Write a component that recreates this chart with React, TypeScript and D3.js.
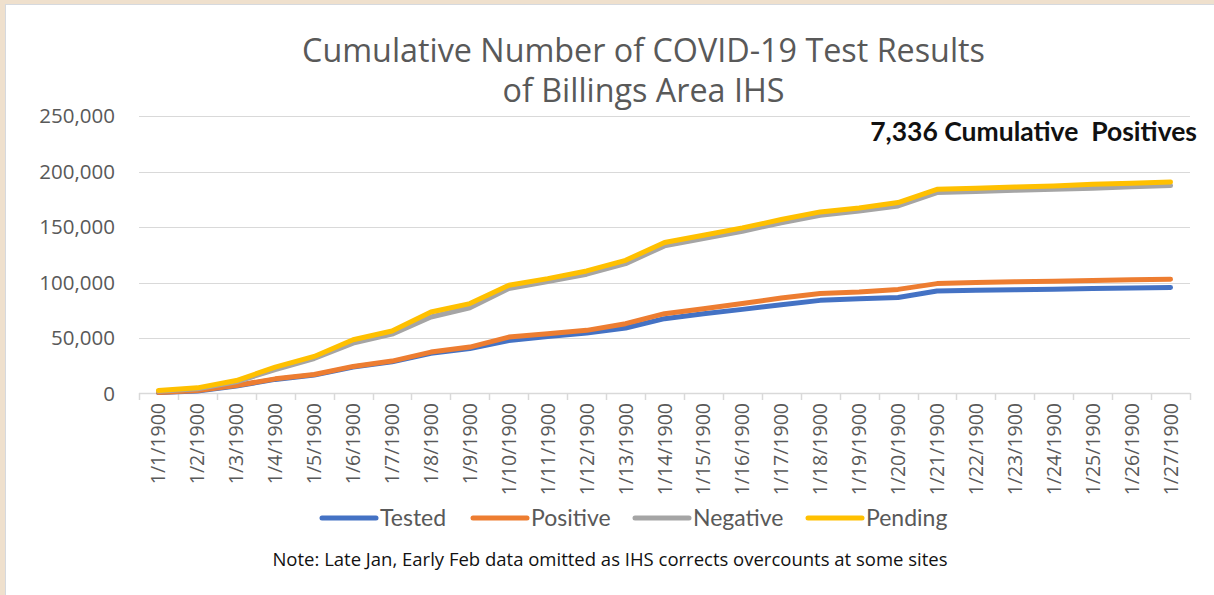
import React from 'react';
import { scaleBand, scaleLinear, line } from 'd3';

const width = 1214;
const height = 595;
const margin = { top: 116, right: 24, bottom: 202, left: 139 };

const dates = [
  '1/1/1900', '1/2/1900', '1/3/1900', '1/4/1900', '1/5/1900', '1/6/1900', '1/7/1900',
  '1/8/1900', '1/9/1900', '1/10/1900', '1/11/1900', '1/12/1900', '1/13/1900', '1/14/1900',
  '1/15/1900', '1/16/1900', '1/17/1900', '1/18/1900', '1/19/1900', '1/20/1900', '1/21/1900',
  '1/22/1900', '1/23/1900', '1/24/1900', '1/25/1900', '1/26/1900', '1/27/1900',
];

const tested = [
  800, 2300, 6800, 12700, 16600, 23800, 28500, 36300, 40500, 47800, 51300, 54500, 59000, 67400,
  71900, 75800, 80000, 83900, 85400, 86500, 92400, 93000, 93500, 94000, 94600, 95000, 95500,
];
const positive = [
  1000, 2700, 7200, 13200, 17100, 24400, 29200, 37300, 41800, 50800, 53800, 56900, 62900, 71900,
  76400, 81000, 86000, 90000, 91400, 93800, 99000, 100000, 100600, 101200, 101800, 102400, 103000,
];
const negative = [
  2000, 4300, 10500, 21600, 31500, 45400, 53500, 68900, 77300, 94500, 100800, 107500, 117000, 133000,
  139500, 146200, 153800, 160500, 164500, 169000, 181000, 182000, 183000, 184000, 185000, 186200, 187300,
];
const pending = [
  2700, 5100, 11700, 23700, 33400, 48400, 56300, 73400, 81000, 97500, 103500, 110400, 120000, 136000,
  142600, 149200, 156700, 163600, 167200, 172000, 184000, 185000, 186000, 187000, 188500, 189500, 190500,
];

const yTicks = [0, 50000, 100000, 150000, 200000, 250000];

const series = [
  { name: 'Tested', values: tested, color: '#4472C4' },
  { name: 'Positive', values: positive, color: '#ED7D31' },
  { name: 'Negative', values: negative, color: '#A5A5A5' },
  { name: 'Pending', values: pending, color: '#FFC000' },
];

// legend entry start positions
const legendX = [322, 473, 635, 808];

const innerRight = width - margin.right;
const innerBottom = height - margin.bottom;

function App() {
  const xScale = scaleBand().domain(dates).range([margin.left, innerRight]);
  const yScale = scaleLinear().domain([0, 250000]).range([innerBottom + 0.5, margin.top]);
  const cx = (d: string) => xScale(d)! + xScale.bandwidth() / 2;

  const makeLine = (values: number[]) =>
    line<number>()
      .x((_, i) => cx(dates[i]))
      .y(v => yScale(v))(values)!;

  const fmt = (v: number) => (v === 0 ? '0' : v.toLocaleString('en-US'));

  return (
    <svg width={width} height={height} style={{ position: 'fixed', left: 0, top: 0 }}>
      <rect x={0} y={0} width={width} height={height} fill="#EFE0CD" />
      <rect x={5.5} y={4.5} width={width + 10} height={height + 10} fill="#fff" stroke="#D6D9DE" />

      <text fill="#595959" fontFamily="'Open Sans', sans-serif" fontSize={32.3} textAnchor="middle">
        <tspan x={643.5} y={62}>Cumulative Number of COVID-19 Test Results</tspan>
        <tspan x={643.5} y={102}>of Billings Area IHS</tspan>
      </text>

      <text x={1197} y={141} fontFamily="Lato, sans-serif" fontWeight="bold" fontSize={26.5} textAnchor="end" fill="#111" style={{ whiteSpace: 'pre' }}>
        7,336 Cumulative  Positives
      </text>

      {yTicks.map(t => (
        <g key={t}>
          {t > 0 && (
            <line x1={margin.left} x2={innerRight} y1={Math.round(yScale(t)) + 0.5} y2={Math.round(yScale(t)) + 0.5} stroke="#D9D9D9" strokeWidth={1.2} />
          )}
          <text x={115} y={yScale(t) + 7} textAnchor="end" fill="#595959" fontFamily="'Open Sans', sans-serif" fontSize={20.5}>
            {fmt(t)}
          </text>
        </g>
      ))}

      <line x1={margin.left} x2={innerRight} y1={innerBottom + 0.5} y2={innerBottom + 0.5} stroke="#D9D9D9" strokeWidth={1.5} />
      {[...dates.map(d => xScale(d)!), innerRight].map((x, i) => (
        <line key={i} x1={Math.round(x) + 0.5} x2={Math.round(x) + 0.5} y1={innerBottom} y2={innerBottom + 7} stroke="#D9D9D9" strokeWidth={1.5} />
      ))}
      {dates.map(d => (
        <text
          key={d}
          transform={`translate(${cx(d) + 7}, 403) rotate(-90)`}
          textAnchor="end"
          fill="#595959"
          fontFamily="'Open Sans', sans-serif"
          fontSize={19.5}
        >
          {d}
        </text>
      ))}

      {series.map(s => (
        <path
          key={s.name}
          d={makeLine(s.values)}
          fill="none"
          stroke={s.color}
          strokeWidth={5}
          strokeLinecap="round"
          strokeLinejoin="round"
        />
      ))}

      {series.map((s, i) => (
        <g key={s.name}>
          <line x1={legendX[i]} x2={legendX[i] + 54} y1={518} y2={518} stroke={s.color} strokeWidth={5} strokeLinecap="round" />
          <text x={legendX[i] + 58} y={526} fill="#595959" fontFamily="Lato, sans-serif" fontSize={23}>
            {s.name}
          </text>
        </g>
      ))}

      <text x={610} y={566} textAnchor="middle" fill="#111" fontFamily="'Open Sans', sans-serif" fontSize={18.5}>
        Note: Late Jan, Early Feb data omitted as IHS corrects overcounts at some sites
      </text>
    </svg>
  );
}

export default App;
